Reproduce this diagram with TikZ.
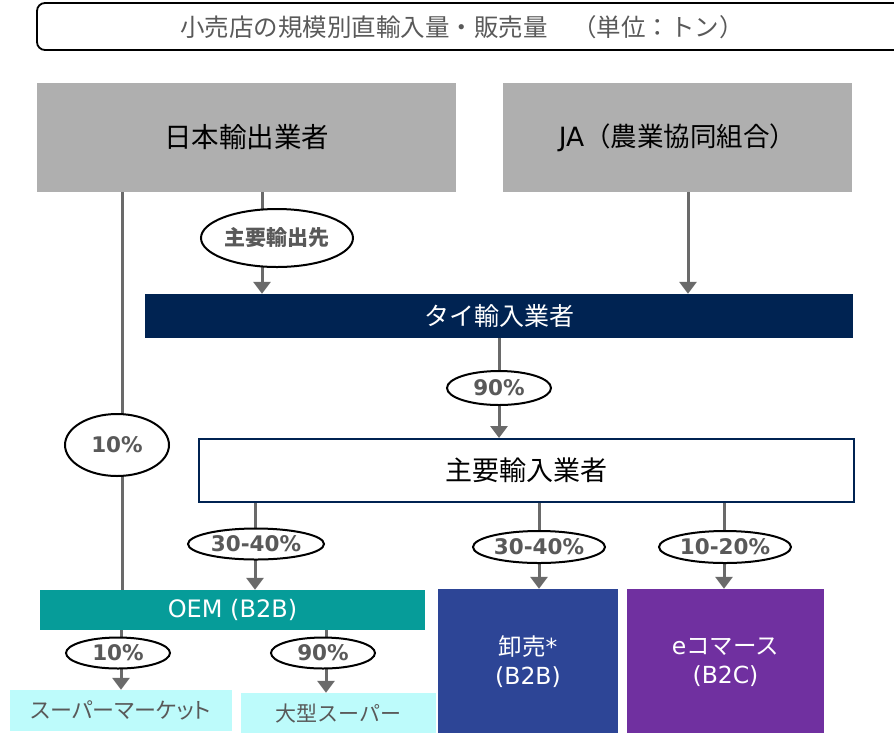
\documentclass[tikz,border=0pt]{standalone}
\usepackage{fontspec}
\setmainfont{DejaVu Sans}
\newfontfamily\cjk{Noto Sans CJK JP}
\newfontfamily\cjkp[RawFeature=+palt]{Noto Sans CJK JP}
\usetikzlibrary{arrows.meta,shapes.geometric}
\definecolor{boxgray}{HTML}{AFAFAF}
\definecolor{navy}{HTML}{002352}
\definecolor{teal2}{HTML}{069C99}
\definecolor{blue2}{HTML}{2D4596}
\definecolor{purple2}{HTML}{7030A0}
\definecolor{cyan2}{HTML}{BDFBFB}
\definecolor{linegray}{HTML}{6A6A6A}
\definecolor{txtgray}{HTML}{595959}
\tikzset{
  box/.style={rectangle, inner sep=0pt, align=center},
  conn/.style={draw=linegray, line width=3pt},
  arr/.style={conn, -{Triangle[width=17pt,length=12pt]}},
  pct/.style={ellipse, draw=black, line width=2pt, fill=white, inner sep=0pt, text=txtgray, font=\fontsize{21.5}{24}\selectfont\bfseries},
}
\begin{document}
\begin{tikzpicture}[x=1pt,y=-1pt]
\useasboundingbox (0,0) rectangle (894,732);
% title
\node[box, draw=black, line width=1.8pt, rounded corners=8pt, minimum width=880pt, minimum height=47pt] (title) at (477,26.5) {};
\node[box, text=txtgray, font=\cjk\fontsize{24.5}{28}\selectfont] (titletext) at (462,27) {小売店の規模別直輸入量・販売量　（単位：トン）};
% boxes
\node[box, fill=boxgray, minimum width=419pt, minimum height=109pt, font=\cjk\fontsize{27.5}{30}\selectfont] (jp) at (246.5,137.5) {日本輸出業者};
\node[box, fill=boxgray, minimum width=349pt, minimum height=109pt, font=\fontsize{26.5}{30}\selectfont] (ja) at (677.5,137.5) {JA{\cjk（農業協同組合）}};
\node[box, fill=navy, text=white, minimum width=708pt, minimum height=44pt, font=\cjk\fontsize{25}{28}\selectfont] (thai) at (499,316) {タイ輸入業者};
\node[box, draw=navy, line width=2pt, fill=white, minimum width=655pt, minimum height=63pt, font=\cjk\fontsize{27}{30}\selectfont] (main) at (526.5,470.5) {主要輸入業者};
\node[box, fill=teal2, text=white, minimum width=385pt, minimum height=40pt, font=\fontsize{24}{28}\selectfont] (oem) at (232.5,610) {OEM (B2B)};
\node[box, fill=blue2, text=white, minimum width=180pt, minimum height=146pt, font=\fontsize{23.5}{29}\selectfont] (whole) at (528,662) {{\cjk 卸売}*\\(B2B)};
\node[box, fill=purple2, text=white, minimum width=197pt, minimum height=146pt, font=\fontsize{23.5}{29}\selectfont] (ec) at (725.5,662) {e{\cjk コマース}\\(B2C)};
\node[box, fill=cyan2, text=txtgray, minimum width=222pt, minimum height=41pt, font=\cjkp\fontsize{22}{24}\selectfont] (sm) at (121,710.5) {スーパーマーケット};
\node[box, fill=cyan2, text=txtgray, minimum width=195pt, minimum height=40pt, font=\cjk\fontsize{21}{24}\selectfont] (big) at (338.5,713) {大型スーパー};
% x positions
\coordinate (xa) at (122,0);
\coordinate (xb) at (262,0);
\coordinate (xc) at (688,0);
\coordinate (xd) at (499,0);
\coordinate (xe) at (255,0);
\coordinate (xf) at (539,0);
\coordinate (xg) at (724,0);
\coordinate (xh) at (121,0);
\coordinate (xi) at (326,0);
% connectors
\draw[conn] (jp.south -| xa) -- (oem.north -| xa);
\draw[arr] (jp.south -| xb) -- (thai.north -| xb);
\draw[arr] (ja.south -| xc) -- (thai.north -| xc);
\draw[arr] (thai.south -| xd) -- (main.north -| xd);
\draw[arr] (main.south -| xe) -- (oem.north -| xe);
\draw[arr] (main.south -| xf) -- (whole.north -| xf);
\draw[arr] (main.south -| xg) -- (ec.north -| xg);
\draw[arr] (oem.south -| xh) -- (sm.north -| xh);
\draw[arr] (oem.south -| xi) -- (big.north -| xi);
% labels
\node[pct, minimum width=152pt, minimum height=58pt, font=\cjk\fontsize{21}{24}\selectfont\bfseries] (eexp) at (277,238) {主要輸出先};
\node[pct, minimum width=104pt, minimum height=62pt] (e10a) at (117,445) {10\%};
\node[pct, minimum width=104pt, minimum height=34pt] (e90a) at (499,388) {90\%};
\node[pct, minimum width=136pt, minimum height=31pt] (e3040a) at (256,544) {30-40\%};
\node[pct, minimum width=132pt, minimum height=32pt] (e3040b) at (539,547) {30-40\%};
\node[pct, minimum width=132pt, minimum height=32pt] (e1020) at (725,547) {10-20\%};
\node[pct, minimum width=104pt, minimum height=31pt] (e10b) at (118,653) {10\%};
\node[pct, minimum width=104pt, minimum height=31pt] (e90b) at (323,653) {90\%};
\end{tikzpicture}
\end{document}
